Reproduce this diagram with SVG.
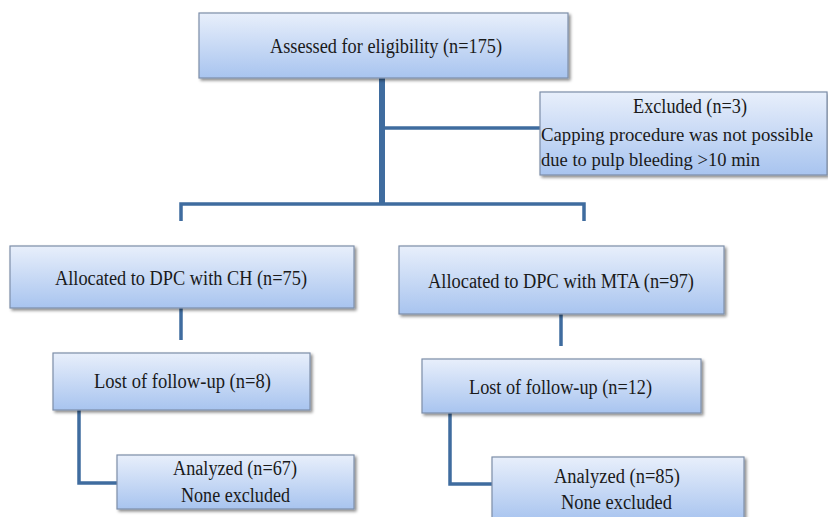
<svg xmlns="http://www.w3.org/2000/svg" width="828" height="517" viewBox="0 0 828 517">
<defs>
<linearGradient id="g" x1="0" y1="0" x2="0" y2="1">
<stop offset="0" stop-color="#e8effb"/>
<stop offset="1" stop-color="#a8c4ef"/>
</linearGradient>
<filter id="sh" x="-5%" y="-10%" width="115%" height="130%">
<feDropShadow dx="2" dy="2" stdDeviation="1.5" flood-color="#000" flood-opacity="0.45"/>
</filter>
</defs>
<style>
.box{fill:url(#g);stroke:#7d8ea8;stroke-width:1.2;filter:url(#sh)}
text{font-family:'Liberation Serif','DejaVu Serif',serif;font-size:20px;fill:#1a1a1a}
.sm{font-size:18px}
.ln{stroke:#3f6c9f;fill:none;stroke-width:3.5}
</style>
<rect width="828" height="517" fill="#fff"/>
<g id="connectors">
<line class="ln" x1="382" y1="78" x2="382" y2="205" style="stroke-width:6"/>
<line class="ln" x1="382" y1="128" x2="541" y2="128"/>
<polyline class="ln" points="181,221 181,204 584,204 584,221"/>
<line class="ln" x1="181" y1="308" x2="181" y2="340"/>
<line class="ln" x1="561" y1="314" x2="561" y2="346"/>
<polyline class="ln" points="79,410 79,483 118,483"/>
<polyline class="ln" points="450,413 450,484 492,484"/>
</g>
<g id="n-assessed">
<rect class="box" x="199" y="13" width="369" height="65"/>
<text x="270" y="53" textLength="232" lengthAdjust="spacingAndGlyphs">Assessed for eligibility  (n=175)</text>
</g>
<g id="n-excluded">
<rect class="box" x="540" y="92" width="287" height="83"/>
<text x="633" y="113" textLength="114" lengthAdjust="spacingAndGlyphs">Excluded (n=3)</text>
<text class="sm" x="541" y="141" textLength="272" lengthAdjust="spacingAndGlyphs">Capping procedure was not  possible</text>
<text class="sm" x="541" y="166" textLength="219" lengthAdjust="spacingAndGlyphs">due to pulp bleeding  &gt;10 min</text>
</g>
<g id="n-ch">
<rect class="box" x="10" y="246" width="344" height="62"/>
<text x="55" y="285" textLength="252" lengthAdjust="spacingAndGlyphs">Allocated  to DPC with  CH (n=75)</text>
</g>
<g id="n-mta">
<rect class="box" x="399" y="246" width="325" height="68"/>
<text x="428" y="288" textLength="266" lengthAdjust="spacingAndGlyphs">Allocated  to DPC with  MTA (n=97)</text>
</g>
<g id="n-lost-ch">
<rect class="box" x="53" y="353" width="257" height="57"/>
<text x="94" y="388" textLength="177" lengthAdjust="spacingAndGlyphs">Lost of follow-up  (n=8)</text>
</g>
<g id="n-lost-mta">
<rect class="box" x="422" y="359" width="279" height="54"/>
<text x="469" y="394" textLength="183" lengthAdjust="spacingAndGlyphs">Lost of follow-up  (n=12)</text>
</g>
<g id="n-an-ch">
<rect class="box" x="117" y="455" width="237" height="54"/>
<text x="173" y="475" textLength="124" lengthAdjust="spacingAndGlyphs">Analyzed  (n=67)</text>
<text x="181" y="502" textLength="109" lengthAdjust="spacingAndGlyphs">None excluded</text>
</g>
<g id="n-an-mta">
<rect class="box" x="492" y="457" width="252" height="64"/>
<text x="554" y="483" textLength="126" lengthAdjust="spacingAndGlyphs">Analyzed  (n=85)</text>
<text x="561" y="509" textLength="111" lengthAdjust="spacingAndGlyphs">None excluded</text>
</g>
</svg>
